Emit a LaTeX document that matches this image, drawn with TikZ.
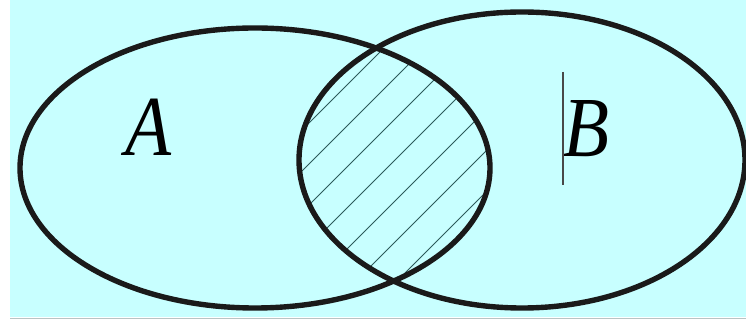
\documentclass[tikz,border=0pt]{standalone}
\usepackage{fontspec}
\setmainfont{Liberation Serif}
\usepackage{tikz}
\usetikzlibrary{positioning}
\definecolor{cBg}{HTML}{C8FFFF}
\definecolor{cEdge}{HTML}{1A1A1A}
\definecolor{cHatch}{HTML}{2C5A5A}
\definecolor{cRule}{HTML}{B8C4C4}
\newcommand{\setletter}[1]{\scalebox{0.88}[1]{#1}}
\tikzset{
  setline/.style={draw=cEdge, line width=4.6pt},
  hatch/.style={draw=cHatch, line width=0.8pt},
  setname/.style={font=\fontsize{73}{80}\selectfont\itshape, text=black, inner sep=0pt},
  marker/.style={draw=cEdge!80, line width=1pt},
}

\begin{document}
\begin{tikzpicture}[x=0.03cm, y=-0.03cm]
  \useasboundingbox (0,0) rectangle (746,320);
  \fill[white] (0,0) rectangle (746,320);
  \fill[cBg] (10,0) rectangle (746,317);
  \draw[cRule, line width=0.8pt] (10,318) -- (746,318);

  \begin{scope}
    \clip (255,168) ellipse [x radius=235, y radius=140];
    \clip (522,160) ellipse [x radius=223, y radius=148];
    \foreach \c in {391,432,...,760}
      \draw[hatch] (\c-320,320) -- (\c,0);
  \end{scope}

  \draw[setline] (255,168) ellipse [x radius=235, y radius=140];
  \draw[setline] (522,160) ellipse [x radius=223, y radius=148];

  \node[setname] (labA) at (148,127) {\setletter{A}};
  \node[setname] (labB) at (586,129) {\setletter{B}};

  \coordinate (markTop) at (563,72);
  \coordinate (markBot) at (563,185);
  \draw[marker] (markTop) -- (markBot);
\end{tikzpicture}
\end{document}
